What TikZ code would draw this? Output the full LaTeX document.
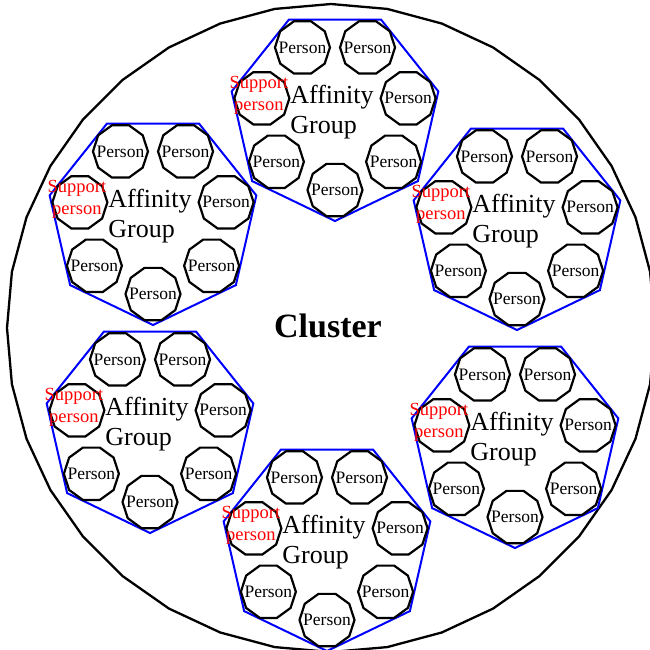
\documentclass[tikz,border=0pt]{standalone}
\usepackage{fontspec}
\setmainfont{Liberation Serif}
\usetikzlibrary{shapes.geometric}
\tikzset{
    cluster-ring/.style = {draw, line width=2.3pt, regular polygon, regular polygon sides=36, shape border rotate=5, minimum size=648pt, inner sep=0pt},
    group-ring/.style = {draw=blue, line width=2pt, regular polygon, regular polygon sides=7, shape border rotate=180, minimum size=212pt, inner sep=0pt},
    person-ring/.style = {draw, line width=2.2pt, regular polygon, regular polygon sides=10, minimum size=55pt, inner sep=0pt},
    person-text/.style = {font=\fontsize{17.5}{17.5}\selectfont, inner sep=0pt},
    support-text/.style = {text=red, align=center, font=\fontsize{18.5}{22}\selectfont, inner sep=0pt},
    group-title/.style = {align=left, font=\fontsize{26}{30}\selectfont, inner sep=0pt},
    cluster-title/.style = {font=\fontsize{34}{34}\selectfont\bfseries, inner sep=0pt},
}

\begin{document}
\begin{tikzpicture}[x=1pt, y=-1pt]
\useasboundingbox (0,0) rectangle (650,649);
\node[cluster-ring] (cluster) at (331,328) {};
\node[cluster-title, anchor=base] (cluster-label) at (328,337) {Cluster};
\foreach \g/\x/\y in {top/335/115, upleft/153/219, upright/517/224, lowleft/150/427, lowright/515/442, bottom/327/545} {
    \node[group-ring] (\g) at (\x,\y) {};
    \foreach \k in {0,...,6}
        \node[person-ring] (\g-\k) at ([shift={(-90+\k*360/7:75pt)}]\g) {};
    \foreach \k in {0,1,2,3,4,6}
        \node[person-text] (\g-\k-label) at (\g-\k) {Person};
    \node[support-text] (\g-support) at ([shift={(-3pt,3pt)}]\g-5) {Support\\person};
    \node[group-title] (\g-title) at ([shift={(-3pt,3pt)}]\g) {Affinity\\Group};
}
\end{tikzpicture}
\end{document}
